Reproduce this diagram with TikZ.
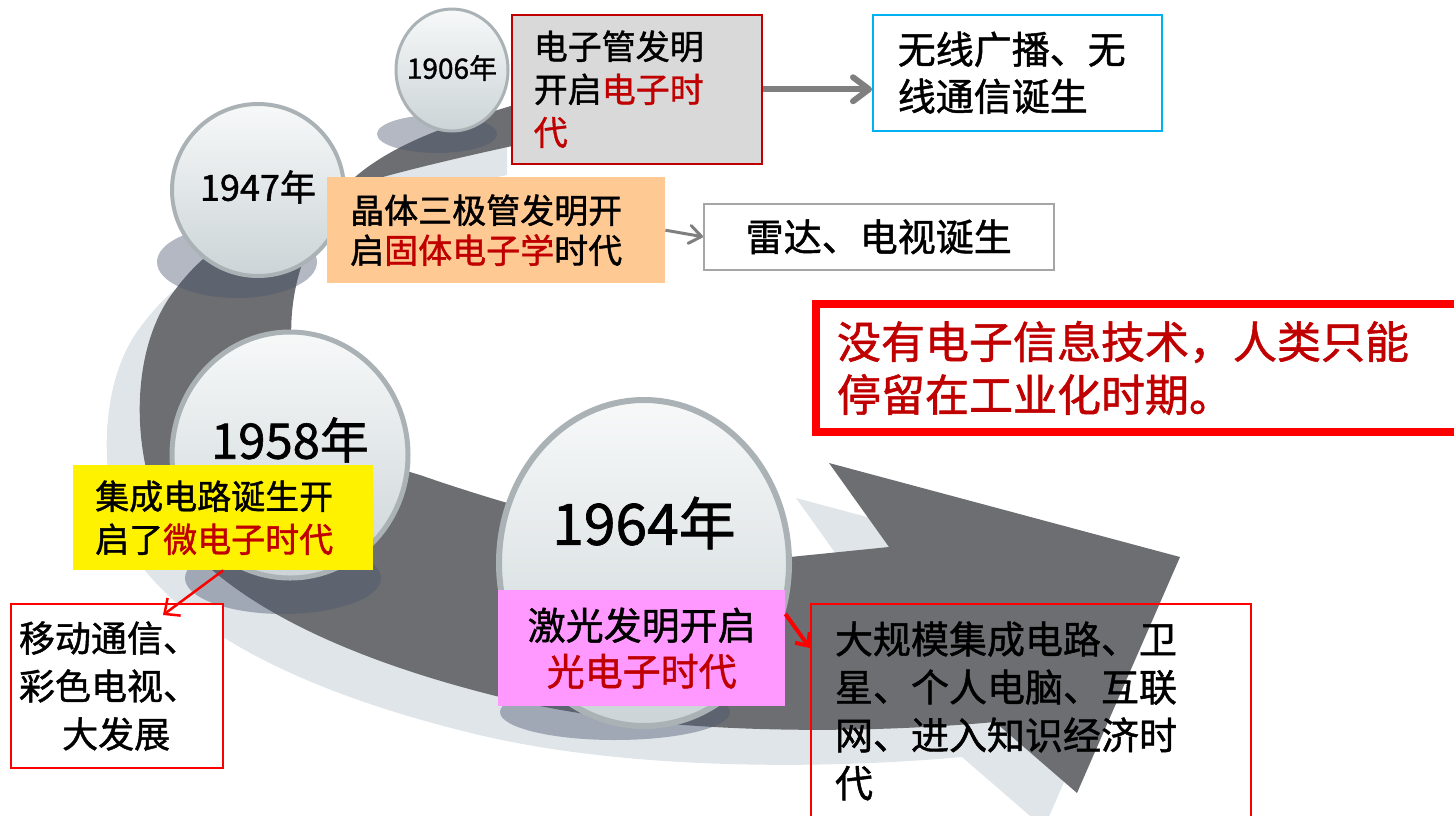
\documentclass[tikz,border=0pt]{standalone}
\usepackage{fontspec}
\setmainfont{Noto Sans CJK SC}[FakeBold=1.2]
\usetikzlibrary{positioning}
\usetikzlibrary{shapes.geometric}
\usetikzlibrary{arrows.meta}

\definecolor{darkred}{HTML}{C00000}
\definecolor{brightred}{HTML}{FF0000}
\definecolor{bandgray}{HTML}{6D6E71}
\definecolor{bandlight}{HTML}{DFE5E8}
\definecolor{ballhi}{HTML}{F7F9F9}
\definecolor{balllo}{HTML}{CCD4D7}
\definecolor{ballrim}{HTML}{AAB2B5}
\definecolor{blobc}{HTML}{4A5570}
\definecolor{tubegray}{HTML}{D9D9D9}
\definecolor{peach}{HTML}{FFC993}
\definecolor{pinkfill}{HTML}{FF99FF}
\definecolor{skyblue}{HTML}{00B0F0}
\definecolor{linkgray}{HTML}{7F7F7F}

\newcommand{\hl}[1]{\textcolor{darkred}{#1}}
\newcommand{\fs}[2]{\fontsize{#1}{#2}\selectfont}

\begin{document}
\begin{tikzpicture}[x=1pt, y=-1pt,
    box/.style={rectangle, anchor=north west, inner ysep=0pt, align=left},
    ball/.style={ellipse, inner sep=0pt, top color=ballhi, bottom color=balllo, draw=ballrim},
    blob/.style={fill=blobc, fill opacity=0.42},
    year/.style={inner sep=0pt},
]
    \useasboundingbox (0,0) rectangle (1454,815);

    % the swirl: pale copy shifted down-left, dark band on top
    \foreach \dx/\dy/\c in {-33/35/bandlight, 0/0/bandgray}
        \fill[fill=\c, shift={(\dx,\dy)}]
            (540,97) .. controls (450,125) and (350,150) .. (315,230)
            .. controls (300,265) and (288,300) .. (292,350)
            .. controls (300,420) and (350,455) .. (420,475)
            .. controls (520,510) and (700,560) .. (790,557)
            -- (889,547) -- (829,463) -- (1180,557) -- (1077,793) -- (995,722)
            .. controls (850,735) and (650,735) .. (500,697)
            .. controls (330,655) and (200,590) .. (155,500)
            .. controls (130,430) and (135,340) .. (175,290)
            .. controls (230,215) and (330,185) .. (540,140) -- cycle;

    % shadows under the balls
    \foreach \x/\y/\a/\b in {437/134/60/19, 237/262/80/36, 283/578/98/36, 615/712/115/28}
        \fill[blob] (\x,\y) ellipse [x radius=\a, y radius=\b];

    % the balls
    \node[ball, minimum width=112pt, minimum height=122pt, line width=3pt] (b1906) at (452,70) {};
    \node[ball, minimum width=172pt, minimum height=172pt, line width=4pt] (b1947) at (258,190) {};
    \node[ball, minimum width=236pt, minimum height=246pt, line width=5pt] (b1958) at (290,455) {};
    \node[ball, minimum width=290pt, minimum height=326pt, line width=6pt] (b1964) at (644,563) {};

    \node[year, font=\fs{28}{28}] (t1906) at ([yshift=2pt]b1906) {1906年};
    \node[year, font=\fs{36}{36}] (t1947) at ([yshift=3pt]b1947) {1947年};
    \node[year, font=\fs{49}{49}] (t1958) at ([yshift=15pt]b1958) {1958年};
    \node[year, font=\fs{57}{57}] (t1964) at ([yshift=40pt]b1964) {1964年};

    % event boxes
    \node[box, fill=tubegray, draw=darkred, line width=1.5pt, minimum width=250pt, minimum height=149pt,
          text width=206pt, inner xsep=22pt, font=\fs{34}{43}] (tube) at (511,14)
        {电子管发明\\开启\hl{电子时}\\\hl{代}};
    \node[box, fill=peach, minimum width=338pt, minimum height=106pt,
          text width=292pt, inner xsep=23pt, font=\fs{34}{40}] (trans) at (327,177)
        {晶体三极管发明开\\启\hl{固体电子学}时代};
    \node[box, fill=yellow, minimum width=300pt, minimum height=105pt,
          text width=256pt, inner xsep=22pt, font=\fs{34}{43}] (ic) at (73,465)
        {集成电路诞生开\\启了\hl{微电子时代}};
    \node[box, fill=pinkfill, minimum width=287pt, minimum height=116pt, align=center,
          text width=267pt, inner xsep=10pt, font=\fs{38}{46}] (laser) at (498,590)
        {激光发明开启\\\hl{光电子时代}};

    % what each one brought
    \node[box, fill=white, draw=skyblue, line width=1.5pt, minimum width=289pt, minimum height=116pt,
          text width=239pt, inner xsep=25pt, font=\fs{38}{47}] (radio) at (872,14)
        {无线广播、无\\线通信诞生};
    \node[box, fill=white, draw=black!35, line width=1.5pt, minimum width=350pt, minimum height=66pt,
          align=center, text width=330pt, inner xsep=10pt, font=\fs{38}{38}] (radar) at (703,203)
        {雷达、电视诞生};
    \node[box, fill=white, draw=brightred, line width=2pt, minimum width=212pt, minimum height=164pt,
          text width=196pt, inner xsep=8pt, font=\fs{36}{48}] (mobile) at (10,603)
        {移动通信、\\彩色电视、\\\hspace*{1.2em}大发展};
    \node[box, draw=brightred, line width=2pt, minimum width=440pt, minimum height=214pt,
          text width=392pt, inner xsep=24pt, font=\fs{38}{48}] (lsi) at (810,603)
        {大规模集成电路、卫\\星、个人电脑、互联\\网、进入知识经济时\\代};

    \node[box, draw=brightred, line width=8pt, minimum width=658pt, minimum height=128pt,
          text width=616pt, inner xsep=21pt, text=darkred, font=\fs{44}{53}] (warn) at (812,300)
        {没有电子信息技术，人类只能\\停留在工业化时期。};

    % arrows
    \coordinate (mtip) at (163,615);
    \draw[linkgray, line width=6pt, -{Straight Barb[length=16pt, width=24pt, round]}]
        (tube.east) -- (tube.east -| radio.west);
    \draw[linkgray, line width=3pt, -{Straight Barb[length=12pt, width=18pt, round]}]
        (trans.east) -- (radar.west);
    \draw[brightred, line width=2.5pt, -{Straight Barb[length=12pt, width=22pt]}]
        (ic.south) -- (mtip);
    \draw[brightred, line width=4pt, -{Straight Barb[length=10pt, width=18pt]}]
        ([yshift=-24pt]laser.north east) -- ([yshift=-45pt]lsi.north west);
\end{tikzpicture}
\end{document}
